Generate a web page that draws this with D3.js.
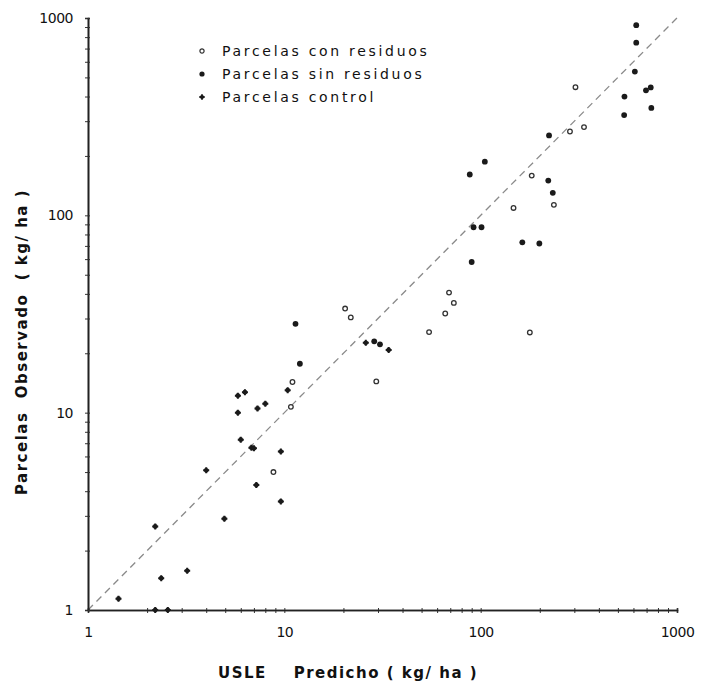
<!DOCTYPE html>
<html>
<head>
<meta charset="utf-8">
<script src="https://cdn.jsdelivr.net/npm/d3@7"></script>
<style>
  body { margin: 0; background: #fff; }
  text { font-family: "DejaVu Sans", sans-serif; fill: #111; }
</style>
</head>
<body>
<script>
const conResiduos = [
    [304, 446], [285, 266], [336, 280], [182, 159], [236, 113], [147, 109],
    [69, 40.6], [73, 36], [66, 31.8], [54.6, 25.6], [178, 25.5], [20.4, 33.7],
    [21.8, 30.4], [29.4, 14.4], [11, 14.3], [10.8, 10.7], [8.8, 5.0]
];
const sinResiduos = [
    [620, 920], [620, 750], [610, 535], [695, 430], [735, 445], [540, 400],
    [740, 350], [538, 322], [223, 254], [105, 187], [88, 161], [221, 150],
    [233, 130], [92, 87], [101, 87], [163, 73], [199, 72], [90, 58],
    [28.7, 23], [30.7, 22.2], [11.4, 28.2], [12, 17.7]
];
const control = [
    [26, 22.6], [34, 20.8], [10.4, 13.0], [5.8, 12.2], [6.3, 12.7], [7.3, 10.5],
    [8.0, 11.1], [5.8, 10.0], [6.0, 7.3], [6.8, 6.65], [7.0, 6.6], [9.6, 6.35],
    [4.0, 5.1], [7.2, 4.3], [9.6, 3.55], [4.95, 2.9], [2.2, 2.65], [3.2, 1.58],
    [2.36, 1.45], [1.43, 1.14], [2.2, 1.0], [2.55, 1.0]
];
const majorTicks = [1, 10, 100, 1000];
const legendLabels = ["Parcelas con residuos", "Parcelas sin residuos", "Parcelas control"];

const canvWidth = 701, canvHeight = 682;
const margin = {top: 18, right: 24, bottom: 72, left: 88};
const width = canvWidth - margin.left - margin.right;
const height = canvHeight - margin.top - margin.bottom;

const svg = d3.select("body").append("svg")
    .attr("width", canvWidth)
    .attr("height", canvHeight);

const g = svg.append("g")
    .attr("transform", `translate(${margin.left},${margin.top})`);

const xScale = d3.scaleLog().domain([1, 1000]).range([0, width]);
const yScale = d3.scaleLog().domain([1, 1000]).range([height, 0]);

const allTicks = xScale.ticks();
const fmt = d => majorTicks.includes(d) ? d : "";

// 1:1 line
g.append("line")
    .attr("x1", xScale(1)).attr("y1", yScale(1))
    .attr("x2", xScale(1000)).attr("y2", yScale(1000))
    .attr("stroke", "#8a8a8a")
    .attr("stroke-width", 1.3)
    .attr("stroke-dasharray", "7,5");

// axes: outer ticks with labels, plus short inner ticks
g.append("g")
    .attr("transform", `translate(0,${height})`)
    .call(d3.axisBottom(xScale).tickValues(allTicks).tickFormat(fmt).tickSize(3).tickPadding(14));
g.append("g")
    .attr("transform", `translate(0,${height})`)
    .call(d3.axisBottom(xScale).tickValues(allTicks).tickFormat("").tickSize(-2));

g.append("g")
    .call(d3.axisLeft(yScale).tickValues(allTicks).tickFormat(fmt).tickSize(3).tickPadding(12));
g.append("g")
    .call(d3.axisLeft(yScale).tickValues(allTicks).tickFormat("").tickSize(-2));

g.selectAll(".domain").attr("stroke", "#222").attr("stroke-width", 1.6);
g.selectAll(".tick line").attr("stroke", "#333");
g.selectAll(".tick text")
    .attr("font-family", "DejaVu Sans")
    .attr("font-size", "14px")
    .attr("letter-spacing", "-0.5px")
    .attr("fill", "#111");

// points
const crossSym = d3.symbol().type(d3.symbolCross).size(20);

g.selectAll(".con")
    .data(conResiduos)
    .enter().append("circle")
    .attr("class", "con")
    .attr("cx", d => xScale(d[0]))
    .attr("cy", d => yScale(d[1]))
    .attr("r", 2.3)
    .attr("fill", "#fff")
    .attr("stroke", "#333")
    .attr("stroke-width", 1.3);

g.selectAll(".sin")
    .data(sinResiduos)
    .enter().append("circle")
    .attr("class", "sin")
    .attr("cx", d => xScale(d[0]))
    .attr("cy", d => yScale(d[1]))
    .attr("r", 2.9)
    .attr("fill", "#1a1a1a");

const ctrl = g.selectAll(".ctrl")
    .data(control)
    .enter().append("g")
    .attr("class", "ctrl")
    .attr("transform", d => `translate(${xScale(d[0])},${yScale(d[1])})`);
ctrl.append("path").attr("d", crossSym).attr("fill", "#1a1a1a");
ctrl.append("circle").attr("r", 2.4).attr("fill", "#1a1a1a");

// legend
const legend = svg.append("g").attr("transform", "translate(202,51)");
const rowGap = 23;
legend.append("circle").attr("cx", 0).attr("cy", 0).attr("r", 2.1)
    .attr("fill", "#fff").attr("stroke", "#333").attr("stroke-width", 1.2);
legend.append("circle").attr("cx", 0).attr("cy", rowGap).attr("r", 2.6).attr("fill", "#1a1a1a");
const lc = legend.append("g").attr("transform", `translate(0,${2 * rowGap})`);
lc.append("path").attr("d", d3.symbol().type(d3.symbolCross).size(16)).attr("fill", "#1a1a1a");
lc.append("circle").attr("r", 2).attr("fill", "#1a1a1a");

legend.selectAll("text")
    .data(legendLabels)
    .enter().append("text")
    .attr("x", 20)
    .attr("y", (d, i) => i * rowGap)
    .attr("dy", "0.35em")
    .attr("font-size", "14px")
    .attr("letter-spacing", "2.7px")
    .text(d => d);

// axis titles
svg.append("text")
    .attr("x", 218)
    .attr("y", 678)
    .attr("font-size", "15px")
    .attr("font-weight", "bold")
    .attr("letter-spacing", "1.5px")
    .attr("xml:space", "preserve")
    .text("USLE    Predicho ( kg/ ha )");

svg.append("text")
    .attr("transform", "rotate(-90)")
    .attr("x", -342)
    .attr("y", 27)
    .attr("font-size", "15px")
    .attr("font-weight", "bold")
    .attr("letter-spacing", "1.5px")
    .style("text-anchor", "middle")
    .attr("xml:space", "preserve")
    .text("Parcelas  Observado  ( kg/ ha )");
</script>
</body>
</html>
